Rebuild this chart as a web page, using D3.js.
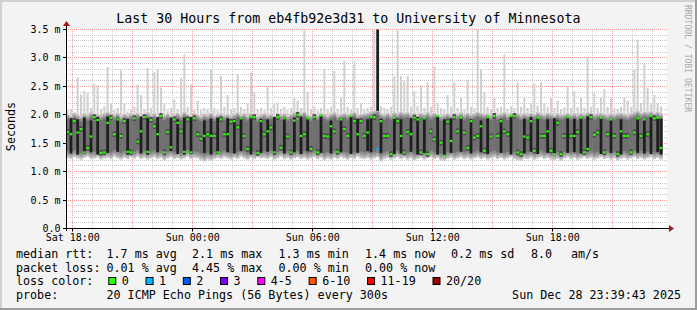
<!DOCTYPE html>
<html><head><meta charset="utf-8">
<script src="https://cdn.jsdelivr.net/npm/d3@7"></script>
<style>
html,body{margin:0;padding:0;background:#f3f3f3;}
svg{display:block;}
text{font-family:"DejaVu Sans Mono",monospace;white-space:pre;}
</style></head><body>
<svg id="c" width="697" height="310"></svg>
<script>
// ---------------- DATA ----------------
const title = "Last 30 Hours from eb4fb92e3d31 to University of Minnesota";
const yAxisTitle = "Seconds";
const sideText = "RRDTOOL / TOBI OETIKER";
const startTime = "2025-12-27T17:39:43Z";
const endTime = "2025-12-28T23:39:43Z";
const stepMinutes = 10;
const yTickValues = [0, 0.5, 1.0, 1.5, 2.0, 2.5, 3.0, 3.5];
const yTickLabels = ["0.0", "0.5 m", "1.0 m", "1.5 m", "2.0 m", "2.5 m", "3.0 m", "3.5 m"];

// median rtt per step (ms)
const med = [1.70,1.66,1.89,1.69,1.75,1.34,1.42,1.62,1.96,1.91,
1.33,1.34,1.86,1.95,1.66,1.92,1.63,1.89,1.35,1.34,
1.94,1.53,1.71,1.96,1.35,1.91,1.80,1.66,1.98,1.34,
1.70,1.43,1.92,1.86,1.71,1.35,1.92,1.34,1.94,1.66,
1.58,1.63,1.66,1.63,1.63,1.34,1.92,1.66,1.66,1.88,
1.89,1.78,1.94,1.63,1.40,1.96,1.96,1.33,1.89,1.66,
1.71,1.78,1.34,1.96,1.42,1.94,1.62,1.34,1.90,2.00,
1.63,1.66,1.94,1.40,1.96,1.34,1.99,1.63,1.62,1.80,
1.71,1.35,1.92,1.75,1.63,1.98,1.89,1.66,1.89,1.63,
1.69,1.96,1.96,1.40,1.89,1.63,1.63,1.31,1.95,1.89,
1.63,1.34,1.70,1.66,1.95,1.92,1.34,1.94,1.31,1.71,
1.57,1.98,1.51,1.28,1.88,1.54,1.96,1.71,1.95,1.69,
1.42,1.89,1.60,1.63,1.80,1.37,1.96,1.62,1.98,1.63,
1.89,1.71,1.66,1.98,1.98,1.34,1.31,1.62,1.60,1.89,
1.37,1.95,1.63,1.63,1.71,1.37,1.31,1.86,1.31,1.63,
1.96,1.63,1.63,1.70,1.95,1.34,1.40,1.96,1.65,1.69,
1.95,1.34,1.66,1.92,1.63,1.31,1.71,1.63,1.63,1.34,
1.69,1.94,1.63,1.92,1.66,1.98,1.94,1.95,1.42];

// fastest ping per step (ms)
const lo = [1.24,1.22,1.25,1.23,1.21,1.24,1.26,1.22,1.23,1.25,
1.21,1.23,1.24,1.22,1.26,1.23,1.21,1.24,1.22,1.25,
1.23,1.26,1.22,1.24,1.21,1.23,1.25,1.22,1.24,1.20,
1.23,1.25,1.22,1.24,1.21,1.23,1.26,1.22,1.24,1.23,
1.20,1.18,1.21,1.19,1.22,1.24,1.22,1.25,1.23,1.21,
1.24,1.22,1.26,1.23,1.21,1.24,1.22,1.25,1.23,1.24,
1.22,1.25,1.21,1.23,1.26,1.22,1.24,1.21,1.23,1.25,
1.22,1.24,1.21,1.23,1.25,1.22,1.24,1.20,1.23,1.21,
1.24,1.22,1.25,1.23,1.21,1.24,1.22,1.26,1.23,1.22,
1.24,1.21,1.23,1.25,1.18,1.22,1.24,1.21,1.23,1.25,
1.22,1.24,1.21,1.23,1.20,1.22,1.24,1.21,1.23,1.25,
1.22,1.24,1.20,1.19,1.22,1.24,1.21,1.23,1.25,1.22,
1.24,1.21,1.23,1.25,1.22,1.24,1.21,1.23,1.25,1.22,
1.24,1.21,1.23,1.25,1.22,1.20,1.19,1.23,1.22,1.24,
1.21,1.23,1.25,1.22,1.24,1.21,1.20,1.22,1.19,1.23,
1.25,1.22,1.24,1.21,1.23,1.25,1.22,1.24,1.21,1.23,
1.25,1.22,1.24,1.21,1.23,1.20,1.22,1.24,1.21,1.23,
1.25,1.22,1.24,1.21,1.23,1.25,1.22,1.24,1.21];

// upper edge of the dense smoke per step (ms)
const hazeTop = [2.02,1.99,2.04,2.01,1.98,2.03,2.00,2.05,1.99,2.02,
2.00,2.03,2.06,1.99,2.01,2.04,1.98,2.02,2.00,2.03,
2.01,2.04,1.99,2.02,2.05,2.00,2.03,1.98,2.02,2.00,
2.03,1.99,2.01,2.04,2.00,2.06,2.02,1.99,2.03,2.01,
1.98,2.02,2.00,2.04,1.99,2.01,2.03,2.00,2.02,1.98,
2.02,2.05,2.00,2.03,1.99,2.04,2.02,1.98,2.01,2.03,
2.00,2.02,1.99,2.04,2.01,2.03,1.99,2.02,2.05,2.00,
2.03,2.06,2.01,1.99,2.02,2.00,2.04,2.02,1.99,2.03,
2.05,2.00,2.02,2.04,2.01,2.03,2.06,2.00,2.02,2.03,
2.04,2.06,2.08,2.10,2.03,2.01,2.04,2.00,2.05,2.03,
2.06,2.04,2.05,2.01,2.03,2.00,2.04,2.02,2.05,2.01,
2.04,2.02,1.99,2.01,2.03,2.00,2.04,2.02,2.05,2.01,
2.04,2.01,2.03,2.06,2.04,2.02,2.03,2.00,2.04,2.01,
2.03,2.05,2.00,2.03,2.02,2.04,2.00,2.03,2.01,2.04,
2.02,2.05,2.03,2.01,2.04,2.02,2.00,2.03,2.01,2.02,
2.04,2.01,2.03,2.00,2.04,2.02,2.05,2.03,2.01,2.03,
2.04,2.02,2.00,2.03,2.01,2.03,2.04,2.02,2.00,2.03,
2.05,2.08,2.04,2.06,2.05,2.07,2.04,2.06,2.03];

// slowest ping per step (ms)
const hi = [2.08,2.10,2.05,2.66,2.36,2.42,2.38,2.12,2.54,2.52,
2.10,2.15,2.84,2.20,2.08,2.12,2.78,2.20,2.06,2.10,
2.14,2.53,2.35,2.10,2.82,2.12,2.75,2.80,2.48,2.20,
2.08,2.12,2.27,2.10,2.65,3.06,2.14,2.53,2.10,2.25,
2.08,2.12,2.10,2.80,2.12,2.08,2.68,2.14,2.35,2.10,
2.12,2.71,2.14,2.10,2.20,2.74,2.40,2.10,2.12,2.08,
2.49,2.12,2.20,2.20,2.10,2.14,2.08,2.12,2.30,2.25,
2.12,3.50,2.40,2.10,2.15,2.08,2.12,2.80,2.10,2.14,
2.77,2.10,2.30,2.95,2.14,2.10,2.94,2.12,2.20,2.10,
2.12,2.14,3.50,3.50,2.15,2.12,2.10,2.14,2.68,3.50,
2.68,2.60,2.68,2.14,2.42,2.15,2.52,2.12,2.57,2.14,
2.85,2.20,2.12,2.10,2.35,2.14,2.57,2.12,2.30,2.10,
2.62,2.14,2.12,3.50,2.80,2.40,2.14,2.10,2.30,2.12,
2.14,3.06,2.10,2.15,2.12,2.57,2.14,2.30,2.12,2.20,
2.55,2.16,2.57,2.20,2.14,2.30,2.12,2.25,2.10,2.14,
2.50,2.12,2.42,2.14,2.30,2.12,3.01,2.14,2.38,2.12,
2.30,2.45,2.14,2.30,2.12,2.10,2.14,2.30,2.25,2.14,
2.80,3.32,2.20,2.90,2.47,2.20,2.35,2.20,2.15];

// dense dark core of the smoke (ms); 0 = no wide core in that step
const dlo = [0,1.32,0,1.30,0,1.31,0,1.34,0,1.30,
0,0,1.33,0,0,1.35,0,0,1.30,0,
0,0,1.32,0,1.30,0,0,1.34,0,0,
0,1.36,0,1.31,0,1.30,0,1.31,0,0,
0,1.33,0,1.30,0,1.31,0,0,1.34,0,
1.32,0,1.36,0,0,1.30,0,0,1.33,0,
1.35,0,1.30,0,0,1.32,0,0,1.34,0,
1.31,0,1.36,0,0,0,1.33,0,0,1.32,
0,0,1.34,0,0,1.31,0,1.33,0,0,
1.36,1.34,0,2.07,1.33,0,0,0,1.31,0,
1.32,0,0,1.35,0,1.30,0,1.33,0,0,
0,1.30,0,1.28,0,1.33,0,0,1.35,0,
0,1.32,0,0,1.34,0,1.31,0,0,0,
1.33,0,0,1.30,0,0,0,1.32,0,1.35,
0,1.31,0,0,1.33,0,1.30,0,0,0,
1.33,0,1.34,0,1.32,0,1.36,0,0,0,
1.31,0,0,1.33,0,0,1.30,0,0,0,
0,1.33,0,1.32,0,1.31,0,1.34,1.30];
const dhi = [0,1.94,0,1.92,0,1.95,0,1.90,0,1.96,
0,0,1.97,0,0,1.95,0,0,1.93,0,
0,0,1.97,0,1.94,0,0,1.96,0,0,
0,1.95,0,1.92,0,1.95,0,1.96,0,0,
0,1.90,0,1.93,0,1.95,0,0,1.94,0,
1.92,0,1.96,0,0,1.97,0,0,1.93,0,
1.92,0,1.96,0,0,1.96,0,0,1.95,0,
1.97,0,1.95,0,0,0,1.98,0,0,1.90,
0,0,1.94,0,0,1.98,0,1.93,0,0,
1.92,1.97,0,3.50,1.93,0,0,0,1.96,0,
1.92,0,0,1.94,0,1.96,0,1.95,0,0,
0,1.98,0,1.92,0,1.94,0,0,1.96,0,
0,1.92,0,0,1.90,0,1.97,0,0,0,
1.92,0,0,1.98,0,0,0,1.93,0,1.96,
0,1.96,0,0,1.92,0,1.94,0,0,0,
1.97,0,1.93,0,1.96,0,1.97,0,0,0,
1.96,0,0,1.93,0,0,1.92,0,0,0,
0,1.95,0,1.93,0,1.98,0,1.96,1.93];

// steps with packet loss (index, lost pings of 20)
const lossSteps = [93];
const lossCounts = [1];

const lossLabels = ["0", "1", "2", "3", "4-5", "6-10", "11-19", "20/20"];
const lossColors = ["#26ff00", "#00b8ff", "#0059ff", "#7e00ff", "#ff00ff", "#ff5500", "#ff0000", "#a10000"];
const lossUpper = [0, 1, 2, 3, 5, 10, 19, 20];

const rttLegend = ["median rtt:", "1.7 ms avg", "2.1 ms max", "1.3 ms min", "1.4 ms now", "0.2 ms sd", "8.0", "am/s"];
const lossLegend = ["packet loss:", "0.01 % avg", "4.45 % max", "0.00 % min", "0.00 % now"];
const probeLegend = ["probe:", "20 ICMP Echo Pings (56 Bytes) every 300s"];
const dateText = "Sun Dec 28 23:39:43 2025";

// ---------------- LAYOUT ----------------
const W = 697, H = 310;
const legendCols = [16, 106.5, 192, 278.5, 365, 451, 531, 571];

const svg = d3.select("#c");
svg.append("rect").attr("width", W).attr("height", H).attr("fill", "#f3f3f3");
svg.append("rect").attr("x", 0).attr("y", 0).attr("width", W).attr("height", 2).attr("fill", "#d0d0d0");
svg.append("rect").attr("x", 0).attr("y", 0).attr("width", 2).attr("height", H).attr("fill", "#d0d0d0");
svg.append("rect").attr("x", W - 2).attr("y", 0).attr("width", 2).attr("height", H).attr("fill", "#9c9c9c");
svg.append("rect").attr("x", 0).attr("y", H - 2).attr("width", W).attr("height", 2).attr("fill", "#9c9c9c");

const t0 = new Date(startTime), t1 = new Date(endTime);
const x = d3.scaleUtc().domain([t0, t1]).range([66, 666]);
const y = d3.scaleLinear().domain([0, 3.5]).range([228.5, 29.5]);
const crisp = v => Math.floor(v) + 0.5;
const stepMs = stepMinutes * 60000;

svg.append("rect").attr("x", 66).attr("y", 29).attr("width", 601).attr("height", 200).attr("fill", "#ffffff");

// grid (under the smoke)
const gG = svg.append("g").attr("fill", "none");
const minorY = y.ticks(35).filter(v => Math.abs(v * 2 - Math.round(v * 2)) > 1e-6);
const hour1 = x.ticks(d3.utcHour.every(1));
const hour3 = x.ticks(d3.utcHour.every(3));
const hour6 = x.ticks(d3.utcHour.every(6));
const isMajorX = t => t.getUTCHours() % 3 === 0;
gG.append("g").selectAll("line").data(minorY).join("line")
  .attr("x1", 66).attr("x2", 667).attr("y1", d => crisp(y(d))).attr("y2", d => crisp(y(d)))
  .attr("stroke", "#c8c8c8").attr("stroke-dasharray", "1,1");
gG.append("g").selectAll("line").data(hour1.filter(t => !isMajorX(t))).join("line")
  .attr("y1", 29).attr("y2", 228).attr("x1", d => crisp(x(d))).attr("x2", d => crisp(x(d)))
  .attr("stroke", "#c8c8c8").attr("stroke-dasharray", "1,1");
gG.append("g").selectAll("line").data(yTickValues).join("line")
  .attr("x1", 66).attr("x2", 667).attr("y1", d => crisp(y(d))).attr("y2", d => crisp(y(d)))
  .attr("stroke", "#f49a9a").attr("stroke-dasharray", "1,1");
gG.append("g").selectAll("line").data(hour3).join("line")
  .attr("y1", 29).attr("y2", 228).attr("x1", d => crisp(x(d))).attr("x2", d => crisp(x(d)))
  .attr("stroke", "#f49a9a").attr("stroke-dasharray", "1,1");

const lossOf = i => { const k = lossSteps.indexOf(i); return k < 0 ? 0 : lossCounts[k]; };
const colorOf = n => lossColors[lossUpper.findIndex(u => n <= u)];

const steps = med.map((m, i) => ({
  i, m,
  a: new Date(+t0 + i * stepMs), b: new Date(+t0 + (i + 1) * stepMs),
  lo: lo[i], hi: hi[i], top: Math.min(hazeTop[i], hi[i]),
  dlo: dlo[i], dhi: dhi[i], loss: lossOf(i)
}));

const gS = svg.append("g");
// light spikes (slowest pings)
gS.append("g").selectAll("rect").data(steps).join("rect")
  .attr("x", d => (x(d.a) + x(d.b)) / 2 - 1)
  .attr("width", 2)
  .attr("y", d => y(d.hi)).attr("height", d => Math.max(0, y(d.top) - y(d.hi)))
  .attr("fill", "#d0d0d0");
// smoke layers
const layers = [
  {c: "#cccccc", a: d => d.lo, b: d => d.top},
  {c: "#adadad", a: d => d.lo + 0.03, b: d => d.top - 0.025},
  {c: "#8e8e8e", a: d => d.lo + 0.07, b: d => d.top - 0.055},
  {c: "#707070", a: d => d.lo + 0.12, b: d => d.top - 0.095},
];
layers.forEach(L => {
  gS.append("g").selectAll("rect").data(steps).join("rect")
    .attr("x", d => x(d.a)).attr("width", d => x(d.b) - x(d.a) + 0.05)
    .attr("y", d => y(L.b(d))).attr("height", d => Math.max(0, y(L.a(d)) - y(L.b(d))))
    .attr("fill", L.c);
});
// dark core
const coreW = d => d.dhi && d.dlo > d.top ? 1.4 : (d.dhi ? 2.8 : x(d.b) - x(d.a));
gS.append("g").selectAll("rect").data(steps).join("rect")
  .attr("x", d => (x(d.a) + x(d.b)) / 2 - coreW(d) / 2).attr("width", coreW)
  .attr("y", d => d.dhi ? y(d.dhi) : y(d.m + 0.05))
  .attr("height", d => d.dhi ? y(d.dlo) - y(d.dhi) : y(d.m - 0.05) - y(d.m + 0.05))
  .attr("fill", d => d.dhi ? "#1e1e1e" : "#4e4e4e");

// medians
svg.append("g").selectAll("rect").data(steps).join("rect")
  .attr("x", d => x(d.a) + 0.4).attr("width", d => x(d.b) - x(d.a) - 0.8)
  .attr("y", d => y(d.m) - 1).attr("height", 2.2)
  .attr("fill", d => colorOf(d.loss));

// axes
const gA = svg.append("g");
gA.append("line").attr("x1", 63).attr("x2", 670).attr("y1", 228.5).attr("y2", 228.5).attr("stroke", "#000");
gA.append("line").attr("x1", 66.5).attr("x2", 66.5).attr("y1", 231).attr("y2", 25).attr("stroke", "#000");
gA.append("path").attr("d", "M669,225L674,228.5L669,232Z").attr("fill", "#9b1c1c");
gA.append("path").attr("d", "M63,26L66.5,21L70,26Z").attr("fill", "#9b1c1c");
gA.append("g").selectAll("line").data(yTickValues).join("line")
  .attr("x1", 63).attr("x2", 66).attr("y1", d => crisp(y(d))).attr("y2", d => crisp(y(d))).attr("stroke", "#000");
gA.append("g").selectAll("line").data(hour6).join("line")
  .attr("y1", 228).attr("y2", 231.5).attr("x1", d => crisp(x(d))).attr("x2", d => crisp(x(d))).attr("stroke", "#000");

// tick labels
const fmt = d3.utcFormat("%a %H:%M");
svg.append("g").selectAll("text").data(yTickValues).join("text")
  .attr("x", 60.5).attr("y", d => crisp(y(d)) + 3.4).attr("text-anchor", "end")
  .attr("font-size", 10).attr("fill", "#000").text((d, i) => yTickLabels[i]);
svg.append("g").selectAll("text").data(hour6).join("text")
  .attr("x", d => crisp(x(d)) + 0.3).attr("y", 241.3).attr("text-anchor", "middle")
  .attr("font-size", 10).attr("fill", "#000").text(d => fmt(d));

// titles
svg.append("text").attr("x", 348.3).attr("y", 23.3).attr("text-anchor", "middle")
  .attr("font-size", 13.3).attr("fill", "#000").text(title);
svg.append("text").attr("transform", "translate(14.5,126.5) rotate(-90)").attr("text-anchor", "middle")
  .attr("font-size", 11.7).attr("fill", "#000").text(yAxisTitle);
svg.append("text").attr("transform", "translate(685,5) rotate(90)").attr("text-anchor", "start")
  .attr("font-size", 8.1).attr("fill", "#a9a9a9").text(sideText);

// legend
const gL = svg.append("g").attr("font-size", 11.7).attr("fill", "#000");
gL.append("g").selectAll("text").data(rttLegend).join("text").attr("x", (d, i) => legendCols[i]).attr("y", 258.3).text(d => d);
gL.append("g").selectAll("text").data(lossLegend).join("text").attr("x", (d, i) => legendCols[i]).attr("y", 271.8).text(d => d);
gL.append("text").attr("x", 16).attr("y", 285.4).text("loss color:");
let bx = 108.3;
lossLabels.forEach((lab, i) => {
  gL.append("rect").attr("x", bx + 0.5).attr("y", 277.5).attr("width", 7).attr("height", 7)
    .attr("fill", lossColors[i]).attr("stroke", "#000");
  gL.append("text").attr("x", bx + 13.5).attr("y", 285.4).text(lab);
  bx += 30.2 + lab.length * 7.05;
});
gL.append("text").attr("x", 16).attr("y", 299).text(probeLegend[0]);
gL.append("text").attr("x", 106.5).attr("y", 299).text(probeLegend[1]);
gL.append("text").attr("x", 681).attr("y", 299).attr("text-anchor", "end").text(dateText);
</script>
</body></html>
